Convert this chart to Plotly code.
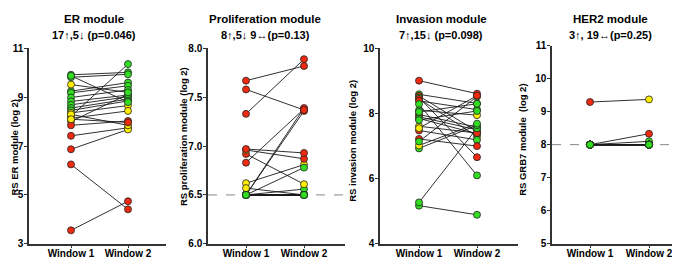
import plotly.graph_objects as go

# ---------------- data ----------------
categories = ["Window 1", "Window 2"]

er_w1 = [3.55, 8.22, 9.92, 9.82, 9.25, 9.18, 8.99, 8.83, 8.69, 8.56, 8.46, 8.36, 8.14, 8.01, 7.85, 7.42, 6.87,
         6.25, 9.52, 9.88, 8.30, 8.10]
er_w2 = [4.74, 10.36, 10.02, 9.94, 9.60, 9.47, 9.30, 9.09, 9.02, 8.92, 8.85, 8.66, 8.44, 9.12, 8.03, 7.75, 7.68,
         4.41, 9.20, 8.80, 7.85, 7.97]
er_c1 = ["r", "y", "g", "g", "g", "g", "g", "g", "g", "g", "g", "y", "y", "y", "r", "r", "r",
         "r", "y", "g", "y", "y"]
er_c2 = ["r", "g", "g", "g", "g", "g", "g", "r", "g", "g", "g", "y", "y", "g", "r", "y", "y",
         "r", "g", "g", "y", "r"]

pr_w1 = [7.67, 7.33, 6.83, 6.50, 6.50, 6.62, 6.50, 6.50,
         7.58, 6.92, 6.57, 6.96, 6.97,
         6.50, 6.50, 6.50, 6.50, 6.50, 6.50, 6.50, 6.50, 6.50]
pr_w2 = [7.82, 7.89, 7.38, 7.36, 7.39, 6.81, 6.78, 6.56,
         7.37, 6.61, 6.50, 6.87, 6.93,
         6.50, 6.50, 6.50, 6.50, 6.50, 6.50, 6.50, 6.50, 6.50]
pr_c1 = ["r", "r", "r", "g", "g", "y", "g", "g",
         "r", "r", "y", "y", "r",
         "g", "g", "g", "g", "g", "g", "g", "g", "g"]
pr_c2 = ["r", "r", "r", "r", "r", "y", "g", "g",
         "r", "y", "g", "r", "r",
         "g", "g", "g", "g", "g", "g", "g", "g", "g"]

inv_w1 = [9.01, 8.59, 8.54, 8.49, 8.45, 8.39, 8.29, 8.10, 7.97, 7.90, 7.85, 7.61, 7.48, 7.22, 5.17,
          5.27, 6.93, 7.02, 7.14, 7.55, 7.80, 8.05]
inv_w2 = [8.61, 8.31, 7.45, 6.66, 7.30, 8.12, 6.10, 7.95, 7.58, 7.50, 7.38, 7.40, 7.19, 7.00, 4.89,
          7.55, 7.64, 7.69, 8.52, 8.55, 8.08, 8.30]
inv_c1 = ["r", "g", "r", "g", "r", "r", "g", "g", "r", "r", "g", "y", "r", "r", "g",
          "g", "g", "y", "g", "y", "g", "g"]
inv_c2 = ["r", "g", "r", "r", "y", "g", "g", "y", "y", "g", "g", "r", "g", "r", "g",
          "g", "g", "g", "g", "r", "g", "g"]

her_w1 = [9.29, 8.00, 8.00] + [8.00] * 19
her_w2 = [9.37, 8.33, 8.10] + [8.00] * 19
her_c1 = ["r", "g", "g"] + ["g"] * 19
her_c2 = ["y", "r", "g"] + ["g"] * 19

titles = ["ER module", "Proliferation module", "Invasion module", "HER2 module"]
subtitles = ["17\u2191,5\u2193 (p=0.046)", "8\u2191,5\u2193 9\u2194(p=0.13)",
             "7\u2191,15\u2193 (p=0.098)", "3\u2191, 19\u2194(p=0.25)"]
ytitles = ["RS ER module (log 2)", "RS proliferation module (log 2)",
           "RS invasion module (log 2)", "RS GRB7 module  (log 2)"]
y_ticks = [[3, 5, 7, 9, 11], [6.0, 6.5, 7.0, 7.5, 8.0], [4, 6, 8, 10], [5, 6, 7, 8, 9, 10, 11]]
y_ticktext = [["3", "5", "7", "9", "11"], ["6.0", "6.5", "7.0", "7.5", "8.0"],
              ["4", "6", "8", "10"], ["5", "6", "7", "8", "9", "10", "11"]]
y_ranges = [[3, 11], [6.0, 8.0], [4, 10], [5, 11]]
ref_lines = [None, 6.5, None, 8.0]

# ---------------- layout helpers ----------------
W, H = 680, 259
def fx(p):
    return p / W
def fy(p):
    return 1 - p / H

COL = {"g": "#33dd22", "y": "#ffee00", "r": "#ee2a10"}
FONT = "Liberation Sans, Arial, sans-serif"

# pixel geometry: (axis_left, axis_right, top, bottom, w1_px, w2_px, title_x, ytitle_left, ytitle_cy)
geom = [
    (21, 158, 37, 241, 63, 120, 86, 0, 140),
    (200, 337, 37, 241, 238, 296, 257, 169, 129),
    (372, 510, 37, 241, 411, 469, 433, 338, 134),
    (544, 680, 34, 241, 582, 641, 602, 508, 133),
]

datasets = [
    (er_w1, er_w2, er_c1, er_c2),
    (pr_w1, pr_w2, pr_c1, pr_c2),
    (inv_w1, inv_w2, inv_c1, inv_c2),
    (her_w1, her_w2, her_c1, her_c2),
]

fig = go.Figure()
annotations = []
shapes = []

for i, ((w1, w2, c1, c2), g) in enumerate(zip(datasets, geom)):
    k = "" if i == 0 else str(i + 1)
    xa, ya = "x" + k, "y" + k
    left, right, top, bottom, p1, p2, tx, ytx, ycy = g
    unit = p2 - p1
    xr = [1 - (p1 - left) / unit, 2 + (right - p2) / unit]

    lx, ly = [], []
    for a, b in zip(w1, w2):
        lx += [1, 2, None]
        ly += [a, b, None]
    fig.add_trace(go.Scatter(x=lx, y=ly, mode="lines", xaxis=xa, yaxis=ya,
                             line=dict(color="#1a1a1a", width=0.9), hoverinfo="skip",
                             showlegend=False))
    fig.add_trace(go.Scatter(x=[1] * len(w1), y=w1, mode="markers", xaxis=xa, yaxis=ya,
                             marker=dict(size=7, color=[COL[c] for c in c1],
                                         line=dict(color="#222222", width=0.8)),
                             showlegend=False, cliponaxis=False))
    fig.add_trace(go.Scatter(x=[2] * len(w2), y=w2, mode="markers", xaxis=xa, yaxis=ya,
                             marker=dict(size=7, color=[COL[c] for c in c2],
                                         line=dict(color="#222222", width=0.8)),
                             showlegend=False, cliponaxis=False))

    fig.layout["xaxis" + k] = dict(
        domain=[fx(left), fx(right)], range=xr, anchor=ya,
        tickvals=[1, 2], ticktext=categories, showline=True, linecolor="#333333",
        linewidth=1.5, ticks="outside", ticklen=2, tickcolor="#333333", showgrid=False,
        zeroline=False, ticklabelstandoff=-3,
        tickfont=dict(family=FONT, size=10, color="black", weight="bold"),
        fixedrange=True)
    fig.layout["yaxis" + k] = dict(
        domain=[fy(bottom), fy(top)], range=y_ranges[i], anchor=xa,
        tickvals=y_ticks[i], ticktext=y_ticktext[i], showline=True, linecolor="#333333",
        linewidth=1.5, ticks="outside", ticklen=3, tickcolor="#333333", showgrid=False,
        zeroline=False, ticklabelstandoff=-1,
        tickfont=dict(family=FONT, size=10, color="black", weight="bold"),
        fixedrange=True)

    if ref_lines[i] is not None:
        shapes.append(dict(type="line", xref=xa + " domain", yref=ya, x0=0, x1=1,
                           y0=ref_lines[i], y1=ref_lines[i],
                           line=dict(color="#888888", width=1, dash="dash"), layer="below"))

    annotations.append(dict(text="<b>" + titles[i] + "</b>", x=fx(tx), y=fy(6), xref="paper",
                            yref="paper", showarrow=False, xanchor="center", yanchor="middle",
                            font=dict(family=FONT, size=11.5, color="black")))
    annotations.append(dict(text="<b>" + subtitles[i] + "</b>", x=fx(tx), y=fy(23), xref="paper",
                            yref="paper", showarrow=False, xanchor="center", yanchor="middle",
                            font=dict(family=FONT, size=11, color="black")))
    annotations.append(dict(text="<b>" + ytitles[i] + "</b>", x=fx(ytx), y=fy(ycy),
                            xref="paper", yref="paper", showarrow=False, textangle=-90,
                            xanchor="left", yanchor="middle", borderpad=0,
                            font=dict(family=FONT, size=9.5, color="black")))

fig.update_layout(width=W, height=H, margin=dict(l=0, r=0, t=0, b=0),
                  paper_bgcolor="white", plot_bgcolor="white",
                  annotations=annotations, shapes=shapes, showlegend=False)

fig.write_html("out.html", config={"displayModeBar": False})
